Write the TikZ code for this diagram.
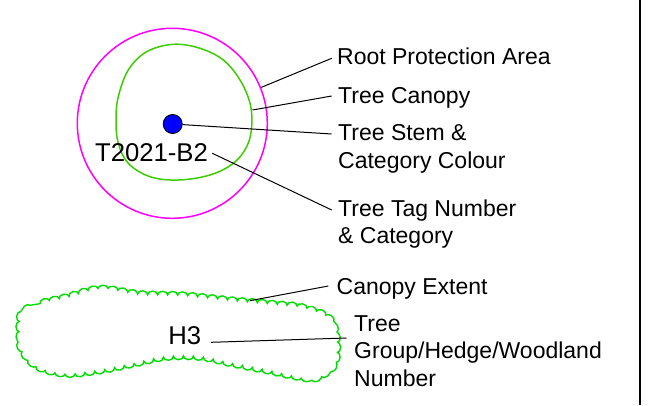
\documentclass[tikz,border=0pt]{standalone}
\usepackage{fontspec}
\setmainfont{Liberation Sans}
\usetikzlibrary{decorations.pathmorphing,calc}
\definecolor{rpamag}{RGB}{255,0,255}
\definecolor{canopygreen}{RGB}{60,205,0}
\definecolor{cloudgreen}{RGB}{0,220,0}
\definecolor{stemblue}{RGB}{0,0,255}
\begin{document}
\begin{tikzpicture}[x=1pt,y=-1pt,
  leader/.style={draw=black, line width=1pt},
  legend/.style={anchor=base west, inner sep=0pt, align=left, font=\fontsize{23}{27.5}\selectfont},
  treelabel/.style={anchor=base, inner sep=0pt, font=\fontsize{25.7}{30}\selectfont},
  canopyline/.style={draw=canopygreen, line width=1.5pt},
  cloudline/.style={draw=cloudgreen, line width=1.4pt, decorate, decoration={bumps, segment length=20pt, amplitude=3.5pt}},
]
\useasboundingbox (0,0) rectangle (669,406);

% root protection area
\node[circle, draw=rpamag, line width=1.5pt, minimum size=190pt, inner sep=0pt] (rpa) at (172.3,123.3) {};
% canopy
\draw[canopyline] plot[smooth cycle, tension=0.6] coordinates {
 (173.3,44.3) (200,48.3) (223.3,60) (240,80) (250,103.3) (251.7,126.7)
 (246.7,146.7) (233.3,163.3) (210,175) (178.3,180) (150,176.7) (128.3,163.3)
 (118.3,143.3) (116,120) (118.3,96.7) (128.3,70) (146.7,51.7)};
\coordinate (canopyedge) at (252.5,110);
% stem
\node[circle, draw=black, fill=stemblue, line width=0.9pt, minimum size=19pt, inner sep=0pt] (stem) at (172.7,124) {};
% tag
\node[treelabel] (tag) at (151.5,161.7) {T2021-B2};
\coordinate (tagstart) at (212.3,153.3);

% cloud
\draw[cloudline] plot[smooth cycle, tension=0.6] coordinates {
 (22,314) (40,304) (66.7,297) (100,289) (140,294) (183.3,295.5) (233.3,300.5)
 (273.3,304) (300,307) (324,315) (334,327) (337,346.7) (333.7,364.7)
 (318,377) (300,377) (266.7,370.3) (233.3,363.7) (200,357) (166.7,357)
 (133.3,363.7) (100,370.3) (66.7,373.7) (38.7,367) (23,351.3) (19.7,333.3)};
\coordinate (cloudedge) at (250,300.7);
\node[treelabel] (h3) at (184.7,344) {H3};
\coordinate (h3start) at (211,342.3);

% legend texts (base anchor = baseline of last line)
\node[legend] (rpatext) at (337,65) {Root Protection Area};
\node[legend] (canopytext) at (338,103.3) {Tree Canopy};
\node[legend] (stemtext) at (338,168.5) {Tree Stem \&\\Category Colour};
\node[legend] (tagtext) at (338,243.5) {Tree Tag Number\\\& Category};
\node[legend] (extenttext) at (336.5,294) {Canopy Extent};
\node[legend] (grouptext) at (354,386) {Tree\\Group/Hedge/Woodland\\Number};

\coordinate (rpaend) at (331.7,58.3);
\coordinate (canopyend) at (331.7,96);
\coordinate (stemend) at (331.7,134);
\coordinate (tagend) at (331.7,210);
\coordinate (extentend) at (328.3,286);
\coordinate (groupend) at (346.7,338);

\draw[leader] (rpa.22) -- (rpaend);
\draw[leader] (canopyedge) -- (canopyend);
\draw[leader] (stem) -- (stemend);
\draw[leader] (tagstart) -- (tagend);
\draw[leader] (cloudedge) -- (extentend);
\draw[leader] (h3start) -- (groupend);

% right border
\coordinate (vtop) at (640,0);
\coordinate (vbot) at (640,405);
\draw[line width=2pt] (vtop) -- (vbot);
\end{tikzpicture}
\end{document}
